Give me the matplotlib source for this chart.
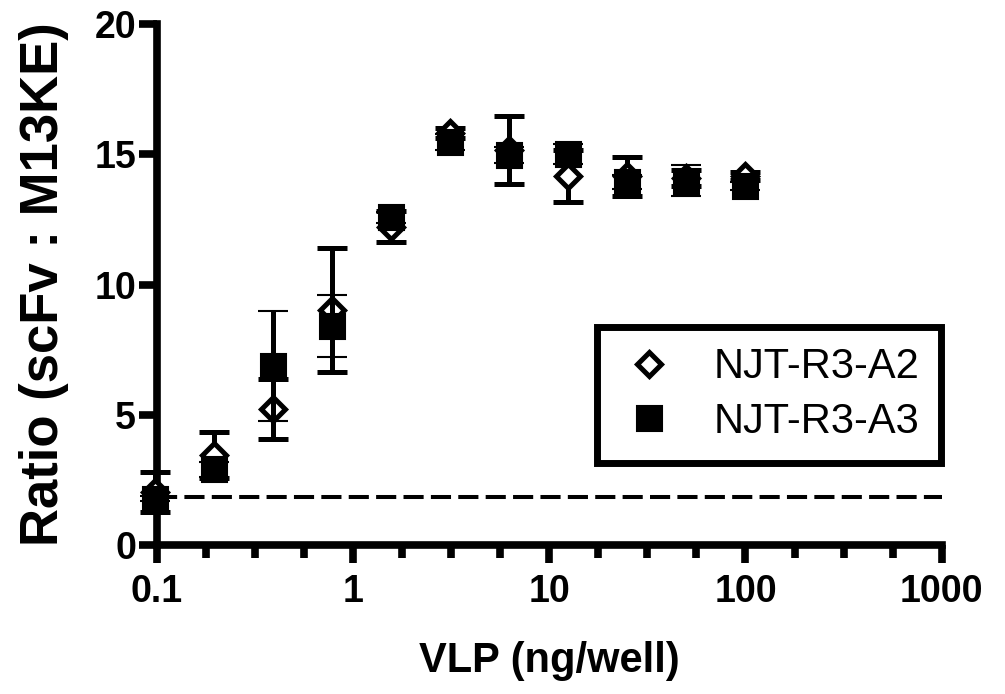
import numpy as np
import matplotlib
matplotlib.use("Agg")
import matplotlib.pyplot as plt
from matplotlib.ticker import FixedLocator, NullFormatter
from matplotlib.lines import Line2D

plt.rcParams["font.family"] = ["Liberation Sans", "DejaVu Sans"]

# VLP 2-fold dilution series (ng/well)
vlp = [0.0977, 0.195, 0.39, 0.78, 1.5625, 3.125, 6.25, 12.5, 25, 50, 100]

# NJT-R3-A2 (open diamonds)
a2_mean = [2.04, 3.46, 5.23, 9.03, 12.22, 15.82, 15.16, 14.15, 14.15, 14.1, 14.15]
a2_err = [0.76, 0.88, 1.16, 2.38, 0.59, 0.2, 1.3, 1.0, 0.76, 0.3, 0.15]

# NJT-R3-A3 (filled squares)
a3_mean = [1.78, 2.9, 6.87, 8.4, 12.58, 15.47, 14.96, 15.01, 13.94, 13.99, 13.79]
a3_err = [0.1, 0.3, 2.1, 1.2, 0.2, 0.3, 0.3, 0.4, 0.28, 0.6, 0.15]

baseline = 1.83
x_ticks = [0.1, 1, 10, 100, 1000]
x_ticklabels = ["0.1", "1", "10", "100", "1000"]
y_ticks = [0, 5, 10, 15, 20]

fig = plt.figure(figsize=(10.05, 6.94), dpi=100)
ax = fig.add_axes([0.156, 0.2147, 0.781, 0.7507])

# dashed baseline
ax.plot([0.1, 1000], [baseline, baseline], color="black", lw=2.9,
        dashes=(5, 1.8), zorder=1, clip_on=False)

ax.errorbar(vlp, a2_mean, yerr=a2_err, fmt="D", ms=12.5, mfc="white",
            mec="black", mew=3.6, ecolor="black", elinewidth=3.6,
            capsize=10.5, capthick=3.6, zorder=3, clip_on=False)
ax.errorbar(vlp, a3_mean, yerr=a3_err, fmt="s", ms=18, mfc="black",
            mec="black", mew=1.5, ecolor="black", elinewidth=3.6,
            capsize=10.5, capthick=3.6, zorder=4, clip_on=False)

ax.set_xscale("log")
ax.set_xlim(0.1, 1000)
ax.set_ylim(0, 20)

ax.xaxis.set_major_locator(FixedLocator(x_ticks))
ax.set_xticklabels(x_ticklabels)
minor = [10 ** (k + f) for k in range(-1, 3) for f in (0.25, 0.5, 0.75)]
ax.xaxis.set_minor_locator(FixedLocator(minor))
ax.xaxis.set_minor_formatter(NullFormatter())
ax.set_yticks(y_ticks)

for s in ["top", "right"]:
    ax.spines[s].set_visible(False)
for s in ["left", "bottom"]:
    ax.spines[s].set_linewidth(5.5)

ax.tick_params(axis="both", which="major", length=13, width=5.5,
               labelsize=27, direction="out")
ax.tick_params(axis="x", which="minor", length=9, width=5.5, direction="out")
ax.tick_params(axis="y", which="major", pad=2)
ax.tick_params(axis="x", which="major", pad=8)
for lab in ax.get_xticklabels() + ax.get_yticklabels():
    lab.set_fontweight("bold")

ax.set_xlabel("VLP (ng/well)", fontsize=30, fontweight="bold", labelpad=22)
ax.set_ylabel("Ratio (scFv : M13KE)", fontsize=38, fontweight="bold", labelpad=18)

handles = [
    Line2D([], [], ls="none", marker="D", ms=12.5, mfc="white", mec="black", mew=3.6),
    Line2D([], [], ls="none", marker="s", ms=18, mfc="black", mec="black", mew=1.5),
]
leg = ax.legend(handles, ["NJT-R3-A2", "NJT-R3-A3"], loc="lower right",
                bbox_to_anchor=(0.936, 0.333), bbox_transform=fig.transFigure,
                fontsize=30, frameon=True, fancybox=False, framealpha=1,
                edgecolor="black", borderaxespad=0, handlelength=1.5,
                handletextpad=0.8, labelspacing=0.35, borderpad=0.5)
leg.get_frame().set_linewidth(5)

fig.savefig("out.png", dpi=100)
